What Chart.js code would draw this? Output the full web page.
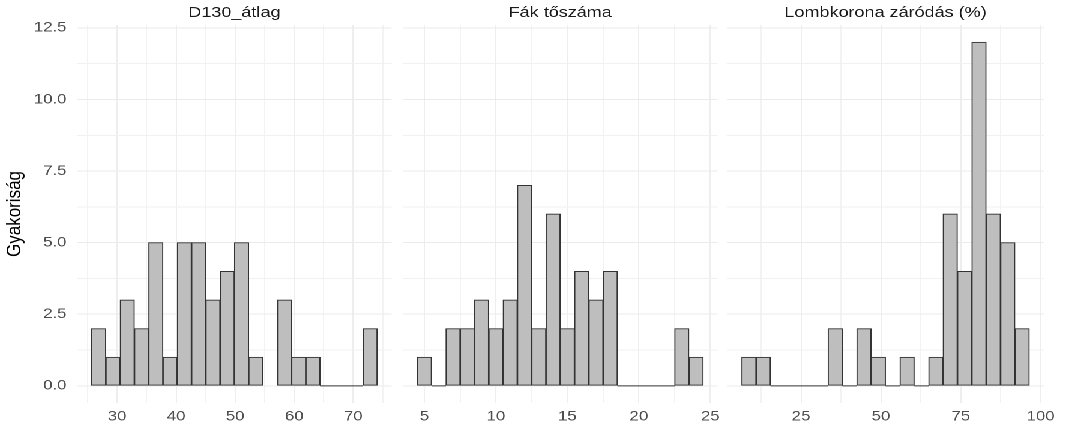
<!DOCTYPE html>
<html>
<head>
<meta charset="utf-8">
<script src="https://cdn.jsdelivr.net/npm/chart.js@4.4.1/dist/chart.umd.min.js"></script>
<style>
  html, body { margin: 0; padding: 0; background: #fff; overflow: hidden; }
  /* the reference is a little wider than tall, so draw at 888px and stretch */
  #wrap { position: absolute; left: 0; top: 0; width: 888px; height: 428px;
          transform: scaleX(1.20045); transform-origin: 0 0; }
  #wrap canvas { position: absolute; left: 0; top: 0; }
</style>
</head>
<body>
<div id="wrap">
  <canvas id="p1" width="888" height="428"></canvas>
  <canvas id="p2" width="888" height="428"></canvas>
  <canvas id="p3" width="888" height="428"></canvas>
</div>
<script>
// D130_átlag - bin centres and counts
const d130Bins = [26.88, 29.30, 31.72, 34.14, 36.56, 38.98, 41.40, 43.82, 46.24, 48.66,
                  51.08, 53.50, 55.92, 58.34, 60.76, 63.18, 65.60, 68.02, 70.44, 72.86];
const d130Counts = [2, 1, 3, 2, 5, 1, 5, 5, 3, 4, 5, 1, null, 3, 1, 1, 0, 0, 0, 2];
const d130Width = 2.42;
const d130Ticks = [30, 40, 50, 60, 70];

// Fák tőszáma
const fakBins = [5, 6, 7, 8, 9, 10, 11, 12, 13, 14, 15, 16, 17, 18, 19, 20, 21, 22, 23, 24];
const fakCounts = [1, 0, 2, 2, 3, 2, 3, 7, 2, 6, 2, 4, 3, 4, 0, 0, 0, 0, 2, 1];
const fakWidth = 1;
const fakTicks = [5, 10, 15, 20, 25];

// Lombkorona záródás (%)
const lombBins = [8.7, 13.2, 17.7, 22.2, 26.7, 31.2, 35.7, 40.2, 44.7, 49.2,
                  53.7, 58.2, 62.7, 67.2, 71.7, 76.2, 80.7, 85.2, 89.7, 94.2];
const lombCounts = [1, 1, 0, 0, 0, 0, 2, 0, 2, 1, 0, 1, 0, 1, 6, 4, 12, 6, 5, 2];
const lombWidth = 4.5;
const lombTicks = [25, 50, 75, 100];

// közös y tengely
const countTicks = [0, 2.5, 5, 7.5, 10, 12.5];

Chart.defaults.font.family = "'Liberation Sans', Arial, sans-serif";

const W = 888;

// major + minor grid positions (minor = half way between majors)
function gridValues(ticks, min, max) {
    const half = (ticks[1] - ticks[0]) / 2;
    const out = [];
    for (let v = ticks[0] - half; v <= ticks[ticks.length - 1] + half + 1e-9; v += half) {
        if (v >= min && v <= max) out.push(+v.toFixed(4));
    }
    return out;
}

// üres osztályok: vonal a nullán, az osztály két szélétől
function zeroLine(bins, counts, width) {
    const pts = [];
    bins.forEach((x, i) => {
        if (counts[i] === 0) {
            pts.push({ x: x - width / 2, y: 0 }, { x: x + width / 2, y: 0 });
        } else {
            pts.push({ x: x, y: null });
        }
    });
    return pts;
}

function makePanel(id, p) {
    const xGrid = gridValues(p.ticks, p.xmin, p.xmax);
    const yGrid = gridValues(countTicks, -0.6, 12.6);

    new Chart(document.getElementById(id), {
        type: 'bar',
        data: {
            datasets: [{
                data: p.bins.map((x, i) => ({ x: x, y: p.counts[i] })),
                backgroundColor: '#bebebe',
                borderColor: '#333333',
                borderWidth: 1,
                borderSkipped: false,
                barPercentage: 1,
                categoryPercentage: 1
            }, {
                type: 'line',
                data: zeroLine(p.bins, p.counts, p.width),
                borderColor: '#333333',
                borderWidth: 1,
                pointRadius: 0,
                spanGaps: false
            }]
        },
        options: {
            responsive: false,
            animation: false,
            devicePixelRatio: 2,
            layout: {
                padding: { left: p.showY ? 0 : p.left, right: W - p.right, top: 0, bottom: 0 }
            },
            plugins: {
                legend: { display: false },
                tooltip: { enabled: false },
                title: {
                    display: true,
                    text: p.title,
                    fullSize: false,
                    color: '#1a1a1a',
                    font: { size: 15, weight: 'normal' },
                    padding: { top: 4, bottom: 3 }
                }
            },
            scales: {
                x: {
                    type: 'linear',
                    min: p.xmin,
                    max: p.xmax,
                    offset: false,
                    border: { display: false },
                    grid: {
                        offset: false,
                        drawTicks: false,
                        lineWidth: 0.84,
                        color: ctx => p.ticks.includes(ctx.tick.value) ? '#ebebeb' : '#f1f1f1'
                    },
                    ticks: {
                        autoSkip: false,
                        maxRotation: 0,
                        padding: 5,
                        color: '#4d4d4d',
                        font: { size: 14 },
                        callback: v => p.ticks.includes(v) ? String(v) : ''
                    },
                    afterBuildTicks: s => { s.ticks = xGrid.map(v => ({ value: v })); },
                    afterFit: s => { s.height = 25; }
                },
                y: {
                    min: -0.6,
                    max: 12.6,
                    border: { display: false },
                    grid: {
                        drawTicks: false,
                        color: ctx => countTicks.includes(ctx.tick.value) ? '#ebebeb' : '#f1f1f1'
                    },
                    ticks: {
                        display: p.showY,
                        autoSkip: false,
                        padding: 9,
                        color: '#4d4d4d',
                        font: { size: 14 },
                        callback: v => countTicks.includes(v) ? v.toFixed(1) : ''
                    },
                    title: {
                        display: p.showY,
                        text: 'Gyakoriság',
                        color: '#000000',
                        font: { size: 17 },
                        padding: { top: 2, bottom: 0 }
                    },
                    afterBuildTicks: s => { s.ticks = yGrid.map(v => ({ value: v })); },
                    afterFit: s => { s.width = p.showY ? p.left : 0; }
                }
            }
        }
    });
}

makePanel('p1', { title: 'D130_átlag', bins: d130Bins, counts: d130Counts, width: d130Width,
                  ticks: d130Ticks, xmin: 23.25, xmax: 76.5, left: 64.4, right: 326.2, showY: true });
makePanel('p2', { title: 'Fák tőszáma', bins: fakBins, counts: fakCounts, width: fakWidth,
                  ticks: fakTicks, xmin: 3.5, xmax: 25.5, left: 335.7, right: 597.7, showY: false });
makePanel('p3', { title: 'Lombkorona záródás (%)', bins: lombBins, counts: lombCounts, width: lombWidth,
                  ticks: lombTicks, xmin: 1.95, xmax: 100.95, left: 605.9, right: 869.4, showY: false });
</script>
</body>
</html>
